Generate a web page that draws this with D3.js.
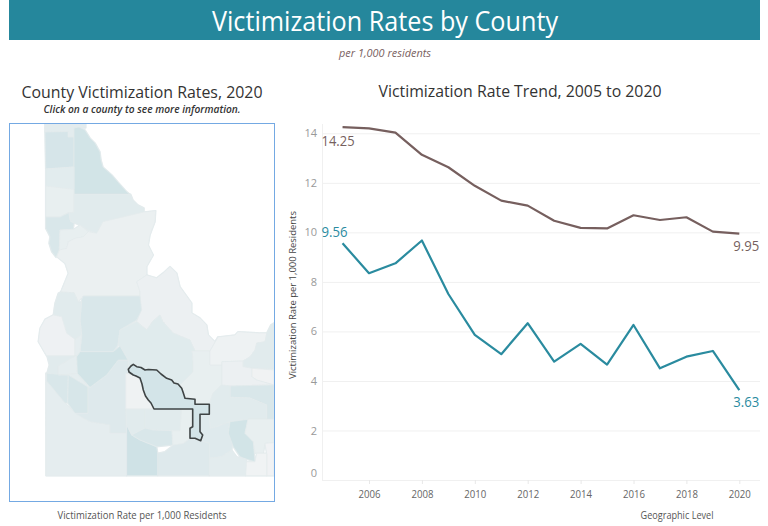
<!DOCTYPE html>
<html><head><meta charset="utf-8">
<script src="https://cdn.jsdelivr.net/npm/d3@7"></script>
<style>html,body{margin:0;padding:0;background:#fff}svg{display:block}text{font-family:"Open Sans",Lato,sans-serif}</style>
</head><body><svg id="c" width="768" height="526"></svg>
<script>
const years=[2005,2006,2007,2008,2009,2010,2011,2012,2013,2014,2015,2016,2017,2018,2019,2020];
const stateRates=[14.25,14.2,14.03,13.13,12.63,11.88,11.28,11.08,10.47,10.18,10.16,10.69,10.5,10.61,10.03,9.95];
const countyRates=[9.56,8.35,8.75,9.67,7.51,5.86,5.08,6.33,4.78,5.5,4.66,6.26,4.51,4.98,5.21,3.63];
const yTicks=[0,2,4,6,8,10,12,14];
const xTicks=[2006,2008,2010,2012,2014,2016,2018,2020];
const countyNames=["Boundary","Bonner","Shoshone","Kootenai","Benewah","Latah","Clearwater","Lewis","Idaho","Lemhi","Valley","Adams","Washington","Strip","Gem","Canyon","Owyhee","Ada","Sliver","Ada2","Elmore","Camas","Custer","Butte","Clark","Fremont","Teton","Madison","Bonneville","Bingham","Power","Bannock","Caribou","BearLake","Franklin","Oneida","Cassia","TwinFalls","Gooding","Lincoln","Jerome","Minidoka","Boise","Blaine"];
const mapRates=[4.1,8,9,4.4,2.6,7,4.7,2.6,1.8,1.5,7,4.7,1,3.5,3.5,4.7,3.5,7,3.5,7.6,5.6,0.5,5,2.6,0.8,4.7,0.4,1.5,7,4.7,5.3,9.1,2.6,0.3,0.2,4.1,5.6,10,4.7,4.7,7,2.6,9,8.8];
const mapShapes=[
[[45,124],[85.7,124],[85.7,128],[74,128],[74,137],[68,137],[68,131.5],[45,132]],
[[45,132],[68,131.5],[68,137],[74,137],[74,167],[45.7,169]],
[[74,128],[79,127],[85,130],[90,138],[95,143],[100,152],[101,160],[103,167],[112,175],[118,182],[127,192],[130,194.3],[74,194.3]],
[[45.7,169],[74,167],[74,189.5],[45.7,186]],
[[45.7,186],[74,189.5],[74,212.7],[68,212.7],[60,217],[45.7,217]],
[[45.7,217],[60,217],[69,212.7],[70.7,221.7],[74,222.7],[73.3,229.3],[60,230],[59.3,250],[56,257.3],[51.7,251.7],[49,243.3],[50,236.7],[45.7,228.3]],
[[74,194.3],[130.7,194.3],[133,200],[138,205],[144,208],[144,212],[103,221.7],[96.7,233.3],[88,230],[80,225],[74,223],[70,220],[69,213],[74,212]],
[[60,230],[74,229.3],[80,225],[88.3,231.7],[83.3,236.7],[75,238.3],[68.3,241.7],[66.7,248.3],[59.3,250]],
[[155.7,210.7],[155,221.7],[150,235],[148.3,245],[153.3,255],[146.7,266.7],[146.7,275],[136.7,281.7],[140,291.7],[140,296],[83.3,296],[78.3,301.7],[74,292.7],[60.7,292],[68.3,273.3],[65,263.3],[56.7,256.7],[59.3,250],[66.7,248.3],[68.3,241.7],[75,238.3],[83.3,236.7],[88.3,231.7],[96.7,233.3],[103,221.7],[144,212]],
[[136.7,281.7],[146.7,275],[156.7,278],[163,273],[170,266.7],[176.7,273],[180,286.7],[191.7,303],[191.7,313],[200,318],[206.7,325],[208.3,335],[215,341.7],[218,337],[210,351],[195,351],[190,340],[173,333],[163,321.7],[160,315],[153,321],[147,330],[136.7,321.7],[141,310],[140,296],[140,291.7]],
[[81.7,299.3],[83.3,296],[140,296],[141.7,310],[136.7,320],[120,330],[118,345],[113.3,351.7],[80,351.7],[81.7,335],[80,320]],
[[58.3,293.3],[60.7,292],[74,292.7],[78.3,301.7],[81.7,301.7],[80,320],[81.7,335],[75,339.3],[66.7,333.3],[61.7,316.7],[53.3,315],[55,303.3]],
[[45,319.3],[53.3,315],[61.7,316.7],[66.7,333.3],[75,339.3],[75,356],[46.7,356],[38.3,341.7],[40,328.3]],
[[75,339.3],[81.7,335],[80,351.7],[76.7,356],[75,356]],
[[75,356],[76.7,356],[77.3,373.3],[58.3,375],[58.3,366]],
[[47,356],[75,356],[58.3,366],[58.3,375],[46.7,374],[49.3,365]],
[[46,373],[46,475.7],[126.7,475.7],[126.7,433],[110,433],[110,425],[98,423],[90,421.7],[83,418],[75,413],[65,403],[46.7,381]],
[[46.7,373.3],[68.3,375],[67.7,403],[65,403],[46.7,381]],
[[58.3,375],[77.3,373.3],[88,387],[68.3,375]],
[[68.3,375],[88,387],[88,413.3],[75,413.3],[67.7,403]],
[[88,387],[90,387.3],[106.7,375],[118.3,360],[128.3,360],[128.6,372],[126,376],[126,433],[110,433],[110,425],[98,423],[90,421.7],[83,418],[75,413.3],[88,413.3]],
[[125.7,373.3],[133.3,375],[140,378],[143.3,390],[148.3,400],[154,409],[125.7,409]],
[[120,330],[136.7,321.7],[146.7,330],[153,321],[160,315],[163,321.7],[173,333],[190,340],[195,351],[192,351],[193,361],[193,372],[180,385],[181.7,388.3],[171.7,380],[166.7,378.3],[156.7,370],[145,370],[136.7,366.7],[133.3,364.3],[128.3,369.3],[128.3,360],[120,346],[118,345]],
[[192,351],[210,351],[210,365],[222,365],[222,385],[213,393],[209.3,404.3],[195,404.3],[195,399.3],[185,398.3],[181.7,388.3],[180,385],[193,372],[193,361]],
[[210,351],[218,337],[235,335],[238,331.7],[260,333],[266.7,333],[265,341.7],[256.7,343],[255,350],[250,356.7],[243,361],[222,361.7],[222,365],[210,365]],
[[266.7,333],[270.7,325],[274,323],[274,369],[251.7,368.3],[243,366.7],[243,361],[250,356.7],[255,350],[256.7,343],[265,341.7]],
[[251.7,368.3],[274,370],[274,385],[256.7,380],[251.7,376.7]],
[[222,361.7],[243,361],[243,366.7],[251.7,368.3],[251.7,376.7],[256.7,380],[274,385],[230,386],[222,385]],
[[230,386],[274,385],[274,419.3],[266.7,419.3],[266.7,405],[250,398],[230,397.3]],
[[221.7,385],[230,386],[230,397.3],[250,398],[266.7,405],[266.7,419.3],[248,419.3],[230,421.7],[216.7,426.7],[209.7,428],[209.3,414.3],[209.3,404.3],[213,393]],
[[200,414.3],[209.3,414.3],[210,428.3],[216.7,426.7],[230,421.7],[228.3,433.3],[233.3,440],[231.7,450],[221.7,456.7],[209.3,458.3],[209.3,443.3],[201.7,441.7],[202.7,435],[200,431.7]],
[[230,421.7],[248,419.3],[245,433.3],[253.3,441.7],[255,461.7],[246.7,459.3],[240,456.7],[233.3,446.7],[228.3,433.3]],
[[248,419.3],[274,419.3],[274,442.7],[265,443.3],[263.3,453.3],[255,453.3],[253.3,441.7],[245,433.3]],
[[265,443.3],[274,442.7],[274,475.7],[266.7,475.7],[266.7,453.3]],
[[245,461.7],[255,461.7],[256.7,453.3],[266.7,453.3],[266.7,475.7],[245.7,475.7]],
[[209.3,458.3],[221.7,456.7],[231.7,450],[236.7,456.7],[246.7,459.3],[245.7,475.7],[209.3,475.7]],
[[157.7,453.3],[165,451.7],[173.3,445],[183.3,443.3],[190,438.3],[195,438.3],[200.7,440.7],[209.3,443.3],[209.3,475.7],[157.7,475.7]],
[[126.7,425],[131.7,435],[140,440],[156.7,446.7],[157.7,453.3],[157.7,475.7],[126.7,475.7]],
[[126,409.3],[145,409.3],[145,428],[131.7,435],[126.7,425]],
[[145,409.3],[180.7,409.3],[180,430.7],[172,430.7],[153,430],[145,428]],
[[145,428],[153,430],[172,430.7],[172.7,445],[156.7,446.7],[140,440],[131.7,435]],
[[181.7,409.3],[192.7,409.3],[192.7,426.7],[190,428.3],[190,438.3],[183.3,443.3],[173,445],[172,430.7],[180,430.7]],
[[76.7,356.7],[80,351.7],[113.3,351.7],[120,346],[128,360],[118.3,360],[106.7,375],[90,387.3],[77.3,373.3]],
[[128.3,369.3],[131,366],[133.3,364.3],[136.7,366.7],[141,367.5],[145,370],[148.3,369.5],[156.7,370],[161,374],[166.7,378.3],[171.7,380],[174,383],[178,384],[181.7,388.3],[183,392],[185,398.3],[195,399.3],[195,404.3],[209.3,404.3],[209.3,414.3],[200,414.3],[200,431.7],[202.7,435],[200.7,440.7],[195,438.3],[190,438.3],[190,428.3],[192.7,426.7],[192.7,409],[154,409],[151,403],[148.3,400],[145.5,396],[143.3,390],[142,384],[140,378],[136,376],[133.3,375],[129,372]]
];
const svg=d3.select("#c");
const teal="#2a8b9f",brown="#765f5e";
svg.append("rect").attr("x",9).attr("y",0).attr("width",751).attr("height",40).attr("fill","#25879c");
const T=(x,y,s,size,fill,extra={})=>{const t=svg.append("text").attr("x",x).attr("y",y).attr("text-anchor",extra.anchor||"middle").attr("font-size",size).attr("fill",fill).text(s);
 if(extra.style)t.attr("font-style",extra.style); if(extra.weight)t.attr("font-weight",extra.weight); if(extra.len)t.attr("textLength",extra.len).attr("lengthAdjust","spacingAndGlyphs"); return t;};
T(385,31,"Victimization Rates by County",27,"#fff",{len:346,weight:"500"});
T(385,57,"per 1,000 residents",10,"#7a5f5f",{style:"italic",len:92});
T(142,98,"County Victimization Rates, 2020",16.5,"#333",{len:241,weight:"500"});
T(142,113,"Click on a county to see more information.",10,"#333",{style:"italic",weight:"600",len:197});
T(520,97,"Victimization Rate Trend, 2005 to 2020",16.5,"#333",{len:283,weight:"500"});
T(142,519,"Victimization Rate per 1,000 Residents",10,"#555",{len:169});
T(677,519,"Geographic Level",10,"#555",{len:73});

// map
const features=mapShapes.map((r,i)=>({type:"Feature",properties:{name:countyNames[i],rate:mapRates[i]},geometry:{type:"Polygon",coordinates:[r.concat([r[0]])]}}));
const path=d3.geoPath(d3.geoIdentity());
const colour=d3.scaleLinear().domain([0,10]).range(["#f1f3f4","#cfe2e6"]);
const mapG=svg.append("g").attr("style","filter:blur(0.35px)");
mapG.append("g").selectAll("path").data(features).join("path").attr("d",path).attr("fill","#e4ecee").attr("stroke","#e4ecee").attr("stroke-width",1.6).attr("stroke-linejoin","round");
mapG.append("g").selectAll("path").data(features).join("path").attr("d",path)
 .attr("fill",d=>colour(d.properties.rate)).attr("stroke",d=>d.properties.name==="Blaine"?"#3f4445":"#e4ebec")
 .attr("stroke-width",d=>d.properties.name==="Blaine"?1.6:0.7).attr("stroke-linejoin","round");
svg.append("rect").attr("x",9.5).attr("y",123.5).attr("width",265).attr("height",378).attr("fill","none").attr("stroke","#74a9e3").attr("stroke-width",1);

// chart
const x=d3.scaleLinear().domain([2006,2020]).range([369,739.3]);
const y=d3.scaleLinear().domain([0,14]).range([480,133.3]);
const gridL=322,gridR=760;
const g=svg.append("g");
g.selectAll("line.g").data(yTicks).join("line").attr("x1",gridL).attr("x2",gridR).attr("y1",d=>y(d)+.5).attr("y2",d=>y(d)+.5).attr("stroke","#f0f0f0");
g.append("line").attr("x1",gridL+.5).attr("x2",gridL+.5).attr("y1",124).attr("y2",480).attr("stroke","#f0f0f0");
const ax=g.append("g").attr("transform","translate(0,480)").call(d3.axisBottom(x).tickValues(xTicks).tickFormat(d3.format("d")).tickSize(4).tickPadding(7));
ax.select(".domain").remove(); ax.selectAll("line").attr("stroke","#e8e8e8");
ax.selectAll("text").attr("font-size",10.5).attr("fill","#666").attr("font-family","Open Sans").attr("textLength",22).attr("lengthAdjust","spacingAndGlyphs");
const ay=g.append("g").attr("transform",`translate(${gridL},0)`).call(d3.axisLeft(y).tickValues(yTicks).tickSize(0).tickPadding(5));
ay.select(".domain").remove();
ay.selectAll("text").attr("font-size",11).attr("fill","#999").attr("font-family","Open Sans").attr("dy",d=>d===0?"-0.32em":"0.32em");
svg.append("text").attr("transform","translate(296,295) rotate(-90)").attr("text-anchor","middle").attr("font-size",9.5).attr("fill","#444").attr("textLength",168).attr("lengthAdjust","spacingAndGlyphs").text("Victimization Rate per 1,000 Residents");
const line=d3.line().x((d,i)=>x(years[i])).y(d=>y(d));
[[stateRates,brown],[countyRates,teal]].forEach(([v,c])=>svg.append("path").attr("d",line(v)).attr("fill","none").attr("stroke",c).attr("stroke-width",2.2).attr("stroke-linejoin","round"));
const L=(v,i,dx,dy,c,a,w)=>T(x(years[i])+dx,y(v[i])+dy,v[i].toFixed(2),14,c,{anchor:a,len:w});
L(stateRates,0,-21,19,brown,"start",33);
L(countyRates,0,-21,-6,teal,"start",26);
L(stateRates,15,20,17.5,brown,"end",26);
L(countyRates,15,20,17,teal,"end",26);
</script></body></html>
